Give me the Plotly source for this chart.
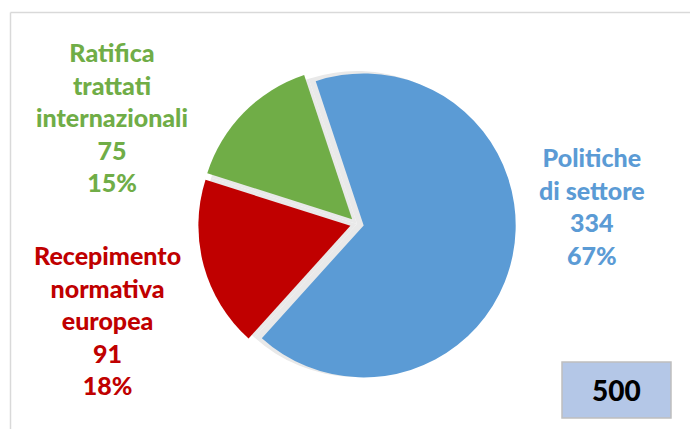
import plotly.graph_objects as go

# ---- data ----
categories = ["Politiche di settore", "Recepimento normativa europea", "Ratifica trattati internazionali"]
label_lines = ["Politiche<br>di settore", "Recepimento<br>normativa<br>europea", "Ratifica<br>trattati<br>internazionali"]
values = [334, 91, 75]
colors = ["#5B9BD5", "#C00000", "#70AD47"]

W, H = 698, 429
OFF = 8  # page body margin compensation
total = sum(values)

def fx(x):
    return (x - OFF) / W

def fy(y):
    return 1 - (y - OFF) / H

# pie geometry (pixels, in screenshot coordinates)
cx, cy = 357, 224
pull = 0.045
R = 152
side = 2 * R * (1 + pull)

def px_dom(cxp, cyp, s):
    return dict(x=[fx(cxp - s / 2), fx(cxp + s / 2)],
                y=[fy(cyp + s / 2), fy(cyp - s / 2)])

fig = go.Figure()

# soft shadow underlay (unpulled, same radius)
fig.add_trace(go.Pie(
    labels=categories, values=values, sort=False, direction="clockwise",
    rotation=-18.4, marker=dict(colors=["#E9E9E9"] * 3, line=dict(width=0)),
    textinfo="none", hoverinfo="skip", showlegend=False,
    domain=px_dom(cx, cy, 2 * R + 2),
))

fig.add_trace(go.Pie(
    labels=categories, values=values, sort=False, direction="clockwise",
    rotation=-18.4, pull=[pull] * len(values),
    marker=dict(colors=colors, line=dict(width=0)),
    textinfo="none", hoverinfo="label+value+percent", showlegend=False,
    domain=px_dom(cx, cy, side),
))

# label positions (pixel centres in screenshot coordinates)
label_pos = [(592, 206), (107, 320), (112, 117)]
annotations = []
for lines, v, col, (lx, ly) in zip(label_lines, values, colors, label_pos):
    pct = round(100 * v / total)
    annotations.append(dict(
        x=fx(lx), y=fy(ly), xref="paper", yref="paper",
        xanchor="center", yanchor="middle", showarrow=False,
        text=f"{lines}<br>{v}<br>{pct}%",
        font=dict(family="Lato", size=25, color=col, weight=900), align="center",
    ))

# total box
bx0, by0, bx1, by1 = 562, 362, 671, 418
annotations.append(dict(
    x=fx((bx0 + bx1) / 2), y=fy((by0 + by1) / 2), xref="paper", yref="paper",
    xanchor="center", yanchor="middle", showarrow=False,
    text=f"{total}", font=dict(family="Lato", size=28, color="black", weight=900),
))

shapes = [
    dict(type="rect", xref="paper", yref="paper",
         x0=fx(bx0), x1=fx(bx1), y0=fy(by1), y1=fy(by0),
         fillcolor="#B4C7E7", line=dict(color="#BFBFBF", width=1.5), layer="below"),
    dict(type="line", xref="paper", yref="paper",
         x0=fx(10.5), x1=1.05, y0=fy(12.5), y1=fy(12.5),
         line=dict(color="#D9D9D9", width=1.5)),
    dict(type="line", xref="paper", yref="paper",
         x0=fx(10.5), x1=fx(10.5), y0=fy(12.5), y1=-0.05,
         line=dict(color="#D9D9D9", width=1.5)),
]

fig.update_layout(
    width=W, height=H, margin=dict(l=0, r=0, t=0, b=0),
    paper_bgcolor="white", plot_bgcolor="white",
    annotations=annotations, shapes=shapes, showlegend=False,
)

fig.write_html("out.html")
